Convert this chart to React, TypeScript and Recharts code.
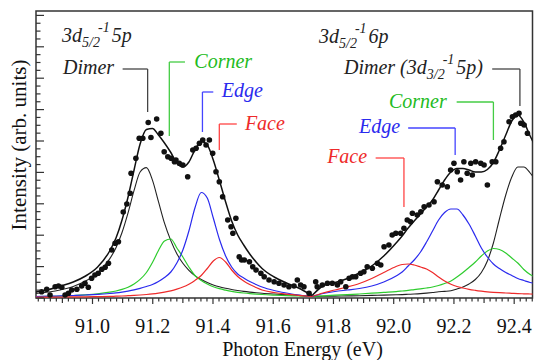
import React from 'react';
import { ComposedChart, Line, Scatter, XAxis, YAxis, ReferenceLine, ReferenceDot, ReferenceArea, Label } from 'recharts';

const serif = 'Liberation Serif, DejaVu Serif, serif';

// fit grid, left group (3d5/2 -> 5p) and right group (3d5/2 -> 6p)
const leftEnergy = [90.812, 90.855, 90.896, 90.936, 90.977, 91.017, 91.057, 91.078, 91.098, 91.118, 91.138, 91.158, 91.179, 91.199, 91.219, 91.239, 91.260, 91.280, 91.300, 91.320, 91.340, 91.361, 91.381, 91.401, 91.421, 91.442, 91.462, 91.482, 91.502, 91.522, 91.543, 91.563, 91.603, 91.644, 91.684, 91.729];
const leftDimer = [4.5, 6, 8.3, 11.5, 16.9, 24.9, 39.1, 50.3, 65.5, 85.2, 107.6, 126, 130.4, 117.9, 96.3, 74.8, 57.4, 44.3, 34.7, 27.7, 22.4, 18.5, 15.5, 13.1, 11.2, 9.7, 8.5, 7.5, 6.6, 5.9, 5.3, 4.8, 4, 3.3, 2.6, 1.5];
const leftCorner = [1.3, 1.6, 2, 2.5, 3.2, 4.2, 5.8, 7, 8.6, 10.8, 14, 18.6, 25.5, 35.5, 47.5, 57, 59, 50, 41, 31, 22.5, 17.5, 14, 11.3, 9.3, 7.8, 6.6, 5.7, 5, 4.4, 3.9, 3.5, 2.9, 2.4, 2, 1.5];
const leftEdge = [1.5, 1.8, 2.1, 2.5, 3, 3.6, 4.5, 5.1, 5.9, 6.9, 8.1, 9.6, 11.5, 13.5, 16.5, 20.5, 26, 35, 48, 67, 90, 105.5, 100, 80, 59, 42, 31, 24, 20, 16.5, 13.5, 11, 7.5, 5, 3, 1.5];
const leftFace = [0.8, 0.9, 1, 1.1, 1.2, 1.4, 1.6, 1.8, 2, 2.3, 2.6, 3, 3.5, 4.1, 4.9, 5.9, 7.2, 8.9, 11, 13.8, 17.5, 22.5, 29.5, 37, 40.5, 36, 28, 21.5, 17, 13.5, 10.5, 8, 5.5, 3.8, 2.6, 1.5];
const leftFit = [6, 8.5, 12, 16, 22, 31, 47, 60, 78, 101, 128, 154, 168.5, 169.5, 163, 155, 145.5, 135, 131, 136, 148, 156.5, 153, 138, 118, 96, 77, 63, 53, 44, 36, 29.5, 21, 15, 10, 2.5];

const rightEnergy = [91.729, 91.765, 91.805, 91.846, 91.886, 91.927, 91.967, 92.008, 92.028, 92.048, 92.068, 92.089, 92.109, 92.129, 92.149, 92.169, 92.190, 92.210, 92.230, 92.250, 92.271, 92.291, 92.311, 92.331, 92.351, 92.372, 92.392, 92.412, 92.432, 92.453, 92.468];
const rightDimer = [1.5, 1.7, 1.9, 2.1, 2.3, 2.6, 2.9, 3.2, 3.4, 3.7, 4, 4.4, 4.9, 5.5, 6.2, 6.6, 7.2, 9, 11, 14, 18.5, 25.5, 37, 55, 79, 103, 121, 131, 131, 125, 119];
const rightCorner = [1.5, 2.2, 2.8, 3.3, 4, 4.8, 5.6, 6.4, 7, 7.6, 8.4, 9.2, 10, 11, 12.5, 14.5, 17, 21, 25.5, 30.5, 36, 42, 47, 49.5, 48.5, 45, 40, 35, 28.5, 23.5, 21];
const rightEdge = [1.5, 4.5, 6.5, 8, 9.5, 12, 16, 22, 26, 32, 38, 46, 56, 67, 78, 85.5, 89, 89, 83, 74, 62, 50, 41, 34, 29.5, 25.5, 22.5, 19.5, 17.5, 15.5, 14.5];
const rightFace = [1.5, 5, 8, 11, 14.5, 19.5, 25.5, 31.5, 33.5, 34, 33, 31, 29, 25.5, 21, 17, 13.8, 11.5, 10, 8.7, 7.7, 6.9, 6.2, 5.7, 5.3, 5, 4.7, 4.4, 4.2, 4, 3.9];
const rightFit = [2.5, 12, 15.5, 19.5, 25, 32, 42, 55, 62, 70, 77, 84, 91, 98, 108, 118, 126, 129.5, 129.5, 128, 126, 126, 128.5, 135.5, 148, 163, 177, 183, 176, 162, 153];

// measured points [energy, intensity]
const leftDots = [
  [90.831, 6.3], [90.848, 8.7], [90.859, 3], [90.876, 11.3], [90.887, 12], [90.898, 10.7], [90.909, 3], [90.920, 4.7],
  [90.931, 8], [90.948, 8.7], [90.964, 12], [90.975, 14.7], [90.986, 10.7], [90.997, 19.7], [91.008, 23], [91.019, 24.7],
  [91.031, 28.7], [91.042, 30.7], [91.053, 34.7], [91.064, 48], [91.075, 54.7], [91.086, 56.3], [91.102, 86], [91.114, 94],
  [91.125, 104.7], [91.128, 124.7], [91.144, 139.7], [91.155, 159.7], [91.167, 159.7], [91.185, 175.5], [91.194, 160.5],
  [91.213, 179], [91.227, 164.7], [91.238, 146.3], [91.250, 141.3], [91.261, 139.7], [91.272, 136.3], [91.277, 138],
  [91.288, 134.7], [91.300, 133], [91.316, 121.3], [91.333, 148], [91.344, 149.7], [91.355, 154.7], [91.366, 158],
  [91.377, 153], [91.388, 158], [91.399, 144.7], [91.410, 126.3], [91.421, 116.3], [91.432, 101.3], [91.449, 78],
  [91.460, 71.3], [91.466, 64.7], [91.476, 79.7], [91.487, 41.3], [91.495, 38], [91.504, 38], [91.521, 36.3],
  [91.532, 31.3], [91.543, 28], [91.559, 24.7], [91.570, 21.3], [91.586, 18], [91.603, 16.3], [91.619, 14.7],
  [91.636, 13], [91.652, 11.3], [91.669, 12], [91.680, 18], [91.691, 13], [91.702, 11.3], [91.719, 4.7],
];
const rightDots = [
  [91.741, 16.3], [91.746, 11.3], [91.763, 13], [91.780, 14.7], [91.796, 14.7], [91.813, 13], [91.824, 16.3], [91.841, 11.3],
  [91.852, 19.7], [91.863, 21.3], [91.874, 21.3], [91.890, 24.7], [91.901, 26.3], [91.912, 31.3], [91.929, 29.7],
  [91.946, 34.7], [91.957, 33], [91.968, 51.3], [91.984, 53], [91.995, 63], [92.007, 64.7], [92.023, 64.7], [92.034, 69.7],
  [92.045, 78], [92.056, 76.3], [92.062, 84.7], [92.078, 83], [92.090, 86.3], [92.101, 91.3], [92.117, 93], [92.134, 96.3],
  [92.145, 116.3], [92.161, 113], [92.178, 111.3], [92.189, 128], [92.200, 134.7], [92.211, 126.3], [92.222, 118],
  [92.233, 136.3], [92.244, 124.7], [92.256, 134.7], [92.261, 123], [92.272, 136.3], [92.289, 134.7], [92.300, 133],
  [92.311, 113], [92.327, 136.3], [92.339, 136.3], [92.355, 149.7], [92.366, 156.3], [92.383, 176.3], [92.394, 181.3],
  [92.405, 183], [92.416, 184.7], [92.422, 174.7], [92.433, 173], [92.444, 164.7],
];

const xTickLabels = ['91.0', '91.2', '91.4', '91.6', '91.8', '92.0', '92.2', '92.4'];

// annotations: leader polylines and labels, in data units
const leaders = [
  { color: '#444', pts: [[91.100, 229], [91.183, 229], [91.183, 186]] },
  { color: '#44cc44', pts: [[91.307, 236], [91.255, 236], [91.255, 162]] },
  { color: '#4444ff', pts: [[91.401, 206], [91.365, 206], [91.365, 166]] },
  { color: '#ff4444', pts: [[91.479, 174], [91.421, 174], [91.421, 148]] },
  { color: '#444', pts: [[92.327, 229], [92.419, 229], [92.419, 192]] },
  { color: '#44cc44', pts: [[92.209, 196], [92.331, 196], [92.331, 158]] },
  { color: '#4444ff', pts: [[92.048, 170], [92.204, 170], [92.204, 143]] },
  { color: '#ff4444', pts: [[91.940, 140], [92.034, 140], [92.034, 91]] },
];
const notes = [
  { e: 90.899, v: 256, color: '#222', parts: [['3d'], ['5/2', 'sub'], ['-1', 'sup'], ['5p']] },
  { e: 90.902, v: 224, color: '#222', parts: [['Dimer']] },
  { e: 91.338, v: 230, color: '#22bb22', parts: [['Corner']] },
  { e: 91.429, v: 201, color: '#2a2aee', parts: [['Edge']] },
  { e: 91.506, v: 168, color: '#ee2a2a', parts: [['Face']] },
  { e: 91.752, v: 255.5, color: '#222', parts: [['3d'], ['5/2', 'sub'], ['-1', 'sup'], ['6p']] },
  { e: 91.835, v: 224, color: '#222', parts: [['Dimer (3d'], ['3/2', 'sub'], ['-1', 'sup'], ['5p)']] },
  { e: 91.984, v: 190, color: '#22bb22', parts: [['Corner']] },
  { e: 91.885, v: 165, color: '#2a2aee', parts: [['Edge']] },
  { e: 91.779, v: 135, color: '#ee2a2a', parts: [['Face']] },
];

const xDomain = [90.8124, 92.4608];
const yTop = 287;
const minorX = Array.from({ length: 83 }, (_, i) => Math.round((90.82 + i * 0.02) * 100) / 100);
const yTicks = Array.from({ length: 37 }, (_, i) => i * 7.85);

const zip = (es: number[], vs: number[]) => es.map((e, i) => ({ e, v: vs[i] }));
const pairs = (d: number[][]) => d.map(([e, v]) => ({ e, v }));

function XTick(props: any) {
  const { x, y, payload } = props;
  const val = payload.value;
  const label = xTickLabels.find(t => Math.abs(parseFloat(t) - val) < 1e-6);
  const tenth = Math.abs(val * 10 - Math.round(val * 10)) < 1e-6;
  const len = label ? 6 : tenth ? 5 : 3.5;
  return (
    <g>
      <line x1={x} y1={y} x2={x} y2={y + len} stroke="#333" strokeWidth={1.2} />
      {label && (
        <text x={x} y={y + 35} textAnchor="middle" style={{ fontFamily: serif, fontSize: 20 }} fill="#111">{label}</text>
      )}
    </g>
  );
}

function YTick(props: any) {
  const { x, y, payload } = props;
  const major = Math.round(payload.value / 7.85) % 4 === 0;
  return <line x1={x} y1={y} x2={x + (major ? 8 : 4.5)} y2={y} stroke="#333" strokeWidth={1.2} />;
}

function RichText({ x, y, parts, color }: { x: number, y: number, parts: string[][], color: string }) {
  let shift = 0;
  const spans = parts.map(([t, kind], i) => {
    const target = kind === 'sub' ? 5 : kind === 'sup' ? -10 : 0;
    const dy = target - shift;
    shift = target;
    const dx = kind === 'sup' ? -2 : (i > 0 && parts[i - 1][1] === 'sup') ? 2 : 0;
    return <tspan key={i} dx={dx} dy={dy} style={{ fontSize: kind ? 14 : 20 }}>{t}</tspan>;
  });
  return <text x={x} y={y} fill={color} style={{ fontFamily: serif, fontStyle: 'italic' }}>{spans}</text>;
}

const series = [
  { key: 'ld', data: zip(leftEnergy, leftDimer), color: '#222', w: 1.1 },
  { key: 'lc', data: zip(leftEnergy, leftCorner), color: '#2ecc2e', w: 1.2 },
  { key: 'le', data: zip(leftEnergy, leftEdge), color: '#2a2aee', w: 1.2 },
  { key: 'lf', data: zip(leftEnergy, leftFace), color: '#ee2a2a', w: 1.2 },
  { key: 'rd', data: zip(rightEnergy, rightDimer), color: '#222', w: 1.1 },
  { key: 'rc', data: zip(rightEnergy, rightCorner), color: '#2ecc2e', w: 1.2 },
  { key: 're', data: zip(rightEnergy, rightEdge), color: '#2a2aee', w: 1.2 },
  { key: 'rf', data: zip(rightEnergy, rightFace), color: '#ee2a2a', w: 1.2 },
  { key: 'lt', data: zip(leftEnergy, leftFit), color: '#111', w: 1.5 },
  { key: 'rt', data: zip(rightEnergy, rightFit), color: '#111', w: 1.5 },
];

export default function App() {
  const dots = [...pairs(leftDots), ...pairs(rightDots)];
  return (
    <div style={{ position: 'absolute', left: 0, top: 0, width: 534, height: 360, background: '#fff' }}>
      <ComposedChart width={534} height={360} margin={{ top: 11, right: 1.5, bottom: 22, left: 0 }}>
        <XAxis
          dataKey="e" type="number" domain={xDomain} allowDataOverflow ticks={minorX} interval={0}
          height={40} axisLine={false} tickLine={false} tickSize={0} tickMargin={0} tick={<XTick />}
        >
          <Label content={() => (
            <text x={302.5} y={356} textAnchor="middle" style={{ fontFamily: serif, fontSize: 20 }} fill="#111">Photon Energy (eV)</text>
          )} />
        </XAxis>
        <YAxis
          dataKey="v" type="number" domain={[0, yTop]} allowDataOverflow ticks={yTicks} interval={0}
          width={36} axisLine={false} tickLine={false} tickSize={0} tickMargin={0} tick={<YTick />}
        >
          <Label content={() => (
            <text x={25.5} y={145} transform="rotate(-90 25.5 145)" textAnchor="middle" style={{ fontFamily: serif, fontSize: 21 }} fill="#111">Intensity (arb. units)</text>
          )} />
        </YAxis>
        <ReferenceArea x1={xDomain[0]} x2={xDomain[1]} y1={0} y2={yTop} fill="none" stroke="#333" strokeWidth={1.5} ifOverflow="visible" />
        {series.map(s => (
          <Line key={s.key} data={s.data} dataKey="v" type="monotone" stroke={s.color} strokeWidth={s.w}
            dot={false} activeDot={false} isAnimationActive={false} />
        ))}
        <Scatter data={dots} dataKey="v" isAnimationActive={false}
          shape={(p: any) => <circle cx={p.cx} cy={p.cy} r={2.8} fill="#111" />} />
        {leaders.flatMap((l, i) => [0, 1].map(k => (
          <ReferenceLine key={`l${i}-${k}`} stroke={l.color} strokeWidth={1.3} ifOverflow="visible"
            segment={[{ x: l.pts[k][0], y: l.pts[k][1] }, { x: l.pts[k + 1][0], y: l.pts[k + 1][1] }]} />
        )))}
        {notes.map((n, i) => (
          <ReferenceDot key={`n${i}`} x={n.e} y={n.v} r={0} ifOverflow="visible"
            shape={(p: any) => <RichText x={p.cx} y={p.cy} parts={n.parts} color={n.color} />} />
        ))}
      </ComposedChart>
    </div>
  );
}
